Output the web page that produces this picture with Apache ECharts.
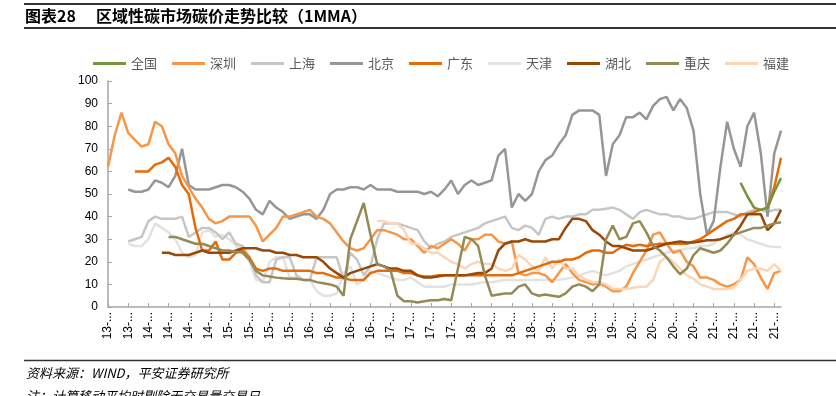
<!DOCTYPE html>
<html>
<head>
<meta charset="utf-8">
<script src="https://cdn.jsdelivr.net/npm/echarts@6/dist/echarts.min.js"></script>
<style>
  html, body { margin: 0; padding: 0; background: #fff; }
  #chart { width: 836px; height: 396px; }
</style>
</head>
<body>
<div id="chart"></div>
<script>
// monthly points, 2013-07 .. 2021-11
const months = [];
for (let k = 0; k < 101; k++) {
    const y = 2013 + Math.floor((6 + k) / 12);
    const m = (6 + k) % 12 + 1;
    months.push(y + '-' + String(m).padStart(2, '0'));
}

const pad = (n, arr) => new Array(n).fill(null).concat(arr);

const seriesNames = ['全国', '深圳', '上海', '北京', '广东', '天津', '湖北', '重庆', '福建'];

const quanguo = pad(94, [55, 49, 44, 43, 44, 51, 57]);

const shenzhen = [
    62, 76, 86, 77, 74, 71, 72, 82, 80, 72,
    68, 58, 53, 48, 44, 39, 37, 38, 40, 40,
    40, 40, 36, 29, 32, 35, 40, 40, 41, 42,
    43, 40, 39, 37, 33, 29, 26, 25, 26, 30,
    34, 34, 33, 32, 30, 30, 27, 24, 27, 26,
    28, 30, 28, 25, 30, 30, 32, 32, 29, 28,
    29, 15, 14, 15, 15, 14, 11, 15, 19, 15,
    12, 11, 10, 10.5, 9, 7, 7, 9, 15, 20,
    25, 32, 33, 28, 24, 25, 20, 18, 13, 13,
    12, 10, 9, 10, 12, 22, 19, 13, 8, 15,
    16
];

const shanghai = pad(3, [
                29, 30, 31, 38, 40, 39, 39,
    39, 40, 31, 33, 35, 35, 33, 30, 33, 28,
    27, 22, 14, 11, 11, 21, 22, 22, 14, 12,
    12, 22, 22, 22, 22, 12, 24, 21, 14, 18,
    30, 37, 37, 37, 36, 35, 34, 29, 26, 28,
    29, 31, 32, 33, 34, 35, 37, 38, 39, 40,
    35, 34, 36, 35, 32, 39, 40, 39, 40, 40,
    41, 41, 43, 43, 43.5, 44, 43, 41, 39, 42,
    43, 42, 41, 41, 40, 40, 39, 39, 40, 41,
    42, 42, 42, 41, 40, 42, 43, 43, 42, 43,
    43
]);

const beijing = pad(3, [
                52, 51, 51, 52, 56, 55, 53,
    58, 70, 54, 52, 52, 52, 53, 54, 54, 53,
    51, 48, 43, 41, 47, 44, 42, 39, 40, 41,
    41, 39, 43, 50, 52, 52, 53, 53, 52, 54,
    52, 52, 52, 51, 51, 51, 51, 50, 51, 49,
    52, 56, 50, 54, 56, 54, 55, 56, 67, 70,
    44, 50, 47, 50, 60, 65, 67, 72, 76, 85,
    87, 87, 87, 85, 58, 72, 76, 84, 84, 86,
    83, 89, 92, 93, 87, 92, 88, 78, 50, 32,
    38, 62, 82, 70, 62, 80, 86, 68, 40, 68,
    78
]);

const guangdong = pad(4, [
                    60, 60, 60, 63, 64, 66,
    62, 54, 50, 35, 25, 25, 29, 21, 21, 24,
    25, 22, 17, 16, 17, 17, 16, 16, 16, 16,
    16, 15, 15, 14, 13, 13, 12, 12, 12, 15,
    16, 16, 16, 16, 15, 15, 14, 13.5, 13.5, 14,
    14, 14, 14, 14, 14, 14, 14, 14, 14, 14,
    14, 15, 16, 17, 18, 19, 20, 20, 21, 21,
    22, 24, 25, 25, 24, 24, 26, 27.5, 27, 27.5,
    27, 27.5, 28, 28, 28, 28, 28, 29, 30, 32,
    34, 36, 38, 39, 41, 41, 42, 43, 44, 53,
    66
]);

const tianjin = pad(3, [
                28, 27, 27, 30, 37, 35, 33,
    30, 24, 22, 23, 33, 34, 31, 32, 30, 27,
    25, 20, 12, 11, 20, 22, 22, 13, 13, 12,
    12, 7, 5, 5, 6, 15, 18, 10, 12, 16,
    15, 14, 13, 12, 12, 13, 11, 9, 9, 9,
    9, 10, 10, 10, 10, 10.5, 11, 11, 11.5, 12,
    12, 12, 12, 12, 12, 12, 12, 12, 12.5, 13,
    14, 15, 16, 15, 14, 15, 16, 18, 19, 20,
    21, 22, 23, 24, 25, 25, 26, 26, 27, 27,
    28, 30, 32, 33, 32, 30, 29, 28, 27, 26.5,
    26.5
]);

const hubei = pad(8, [
                                    24, 24,
    23, 23, 23, 24, 25, 24, 24, 24, 24, 25,
    26, 26, 26, 25, 25, 24, 24, 23, 23, 22,
    22, 22, 20, 17, 15, 13, 15, 16, 17, 18,
    19, 18, 17, 17, 16, 16, 14, 13, 13, 13.5,
    14, 14, 14, 14, 14.5, 15, 15, 17, 25, 28,
    29, 29, 30, 29, 29, 29, 30, 30, 35, 39,
    39, 38, 34, 32, 29, 27, 27, 26, 25, 25,
    25, 26, 27, 28, 28.5, 29, 28.5, 28.5, 29, 29.5,
    29.5, 30, 31, 32, 36, 41, 41, 41, 34, 37,
    43
]);

const chongqing = pad(9, [
                                        31,
    31, 30, 29, 28, 28, 27, 26, 25, 25, 24.5,
    24, 21, 16, 14, 13.5, 13, 12.7, 12.5, 12.5, 12,
    12, 11, 10.5, 10, 9, 5, 30, 38, 46, 32,
    19, 18, 16, 5, 2.5, 2.5, 2, 2.5, 3, 3,
    3.5, 3, 17, 31, 30, 27, 14, 5, 5.5, 6,
    6, 9, 10, 6, 5, 5.5, 5, 4.5, 6, 9,
    10, 9, 7, 10, 30, 36, 30, 31, 37, 38,
    33, 27, 25, 22, 18, 14.5, 17, 23, 26, 25,
    24, 25, 28, 32, 33, 34, 35, 35, 36, 37,
    37.5
]);

const fujian = pad(40, [
    38, 38, 37, 37, 34, 28, 28, 26, 24, 24,
    22, 20, 19, 17, 19, 20, 19, 19, 17, 16,
    17, 23, 21, 18, 16, 22, 17, 21, 17, 17,
    14, 12, 11, 11, 10, 8, 8, 8, 8.5, 9,
    9, 12, 20, 22, 20, 17, 14, 12.5, 10, 9,
    8, 8, 8, 8.5, 12, 16, 17, 17, 16, 19,
    16
]);

const allData = [quanguo, shenzhen, shanghai, beijing, guangdong, tianjin, hubei, chongqing, fujian];
const colors = ['#77933C', '#F79646', '#C6C6C6', '#969696', '#E46C0A', '#E2E2E2', '#984807', '#948A54', '#FCD5B5'];
const zOrder = [9, 4, 2, 3, 6, 1, 7, 8, 5];

const yTicks = [0, 100, 10];

const chart = echarts.init(document.getElementById('chart'));

const cjk = '"Noto Sans CJK SC", sans-serif';

const option = {
    animation: false,
    backgroundColor: '#fff',
    color: colors,
    grid: { left: 108, right: 55, top: 81, bottom: 89 },
    legend: {
        data: seriesNames,
        left: 93,
        top: 57,
        padding: 0,
        icon: 'rect',
        itemWidth: 33,
        itemHeight: 3,
        itemGap: 15,
        textStyle: { fontSize: 13, color: '#595959', fontFamily: cjk }
    },
    xAxis: {
        type: 'category',
        data: months,
        boundaryGap: false,
        axisLine: { lineStyle: { color: '#A6A6A6', width: 1.5 } },
        axisTick: { inside: true, length: 4, interval: 2, lineStyle: { color: '#A6A6A6' } },
        axisLabel: {
            interval: 2,
            rotate: 90,
            fontSize: 12,
            color: '#000',
            fontFamily: 'Liberation Sans',
            margin: 5,
            formatter: (v) => v.slice(2, 4) + '-...'
        },
        splitLine: { show: false }
    },
    yAxis: {
        type: 'value',
        min: yTicks[0],
        max: yTicks[1],
        interval: yTicks[2],
        axisLine: { show: true, lineStyle: { color: '#A6A6A6', width: 1.5 } },
        axisTick: { show: true, inside: true, length: 4, lineStyle: { color: '#A6A6A6' } },
        axisLabel: { fontSize: 12, color: '#000', fontFamily: 'Liberation Sans', margin: 10 },
        splitLine: { show: false }
    },
    series: seriesNames.map((name, k) => ({
        name: name,
        type: 'line',
        data: allData[k],
        showSymbol: false,
        symbol: 'none',
        z: zOrder[k],
        lineStyle: { width: 2.5, color: colors[k] },
        itemStyle: { color: colors[k] }
    })),
    graphic: [
        { type: 'line', shape: { x1: 24, y1: 4, x2: 836, y2: 4 }, style: { stroke: '#333', lineWidth: 2 } },
        { type: 'line', shape: { x1: 24, y1: 28, x2: 836, y2: 28 }, style: { stroke: '#333', lineWidth: 2 } },
        { type: 'text', x: 25, y: 16, style: { text: '图表28', font: 'bold 16px ' + cjk, fill: '#000', textVerticalAlign: 'middle' } },
        { type: 'text', x: 96, y: 16, style: { text: '区域性碳市场碳价走势比较（1MMA）', font: 'bold 16px ' + cjk, fill: '#000', textVerticalAlign: 'middle' } },
        { type: 'line', shape: { x1: 24, y1: 360.5, x2: 836, y2: 360.5 }, style: { stroke: '#333', lineWidth: 1.5 } },
        { type: 'text', x: 26, y: 373, style: { text: '资料来源：WIND，平安证券研究所', font: 'italic 13px ' + cjk, fill: '#000', textVerticalAlign: 'middle' } },
        { type: 'text', x: 26, y: 390, style: { text: '注：计算移动平均时剔除无交易量交易日', font: 'italic 13px ' + cjk, fill: '#000', textVerticalAlign: 'top' } }
    ]
};

chart.setOption(option);
</script>
</body>
</html>
